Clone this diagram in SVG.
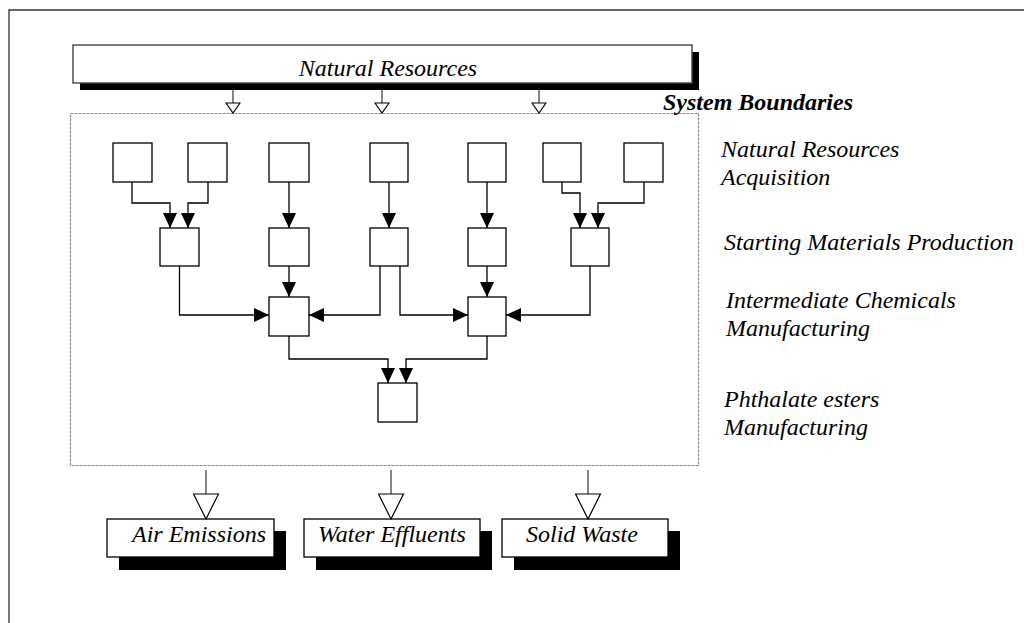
<svg xmlns="http://www.w3.org/2000/svg" width="1024" height="623" viewBox="0 0 1024 623">
<style>
  .bg{fill:#ffffff}
  .frame{fill:none;stroke:#333;stroke-width:1.3}
  .box{fill:#fff;stroke:#000;stroke-width:1.3}
  .tbox{fill:#fff;stroke:#444;stroke-width:1.4}
  .shadow{fill:#000}
  .boundary{fill:none;stroke:#8a8a8a;stroke-width:1.2;stroke-dasharray:3,1}
  .conn{fill:none;stroke:#000;stroke-width:1.3}
  .flow{fill:none;stroke:#444;stroke-width:1.3}
  .lbl{font-family:"Liberation Serif","Times New Roman",serif;font-style:italic;font-size:24px;fill:#000}
  .bold{font-weight:bold}
</style>
<defs>
  <marker id="arr" markerUnits="userSpaceOnUse" viewBox="0 0 15 14" markerWidth="15" markerHeight="14" refX="15" refY="7" orient="auto">
    <path d="M0,0 L15,7 L0,14 z" fill="#000"/>
  </marker>
  <marker id="hollowS" markerUnits="userSpaceOnUse" viewBox="-1 -1 12 16" markerWidth="12" markerHeight="16" refX="10" refY="7" orient="auto">
    <path d="M0,0 L10,7 L0,14 z" fill="#fff" stroke="#000" stroke-width="1.2"/>
  </marker>
  <marker id="hollowB" markerUnits="userSpaceOnUse" viewBox="-1 -1 27 27" markerWidth="27" markerHeight="27" refX="25" refY="12.5" orient="auto">
    <path d="M0,0 L25,12.5 L0,25 z" fill="#fff" stroke="#000" stroke-width="1.2"/>
  </marker>
</defs>
<rect class="bg" x="0" y="0" width="1024" height="623"/>
<path class="frame" d="M9,623 V10 H1024"/>

<g id="natural-resources">
  <rect class="shadow" x="80" y="52" width="619" height="38"/>
  <rect class="tbox" x="73" y="45" width="619" height="38"/>
  <text class="lbl" x="388" y="76" text-anchor="middle">Natural Resources</text>
</g>

<g id="system-boundary">
  <rect class="boundary" x="70.5" y="113.5" width="628" height="352"/>
  <text class="lbl bold" x="663" y="110">System Boundaries</text>
</g>

<g id="stage-labels">
  <text class="lbl" x="721" y="157">Natural Resources</text>
  <text class="lbl" x="721" y="185">Acquisition</text>
  <text class="lbl" x="724" y="250">Starting Materials Production</text>
  <text class="lbl" x="726" y="308">Intermediate Chemicals</text>
  <text class="lbl" x="726" y="336">Manufacturing</text>
  <text class="lbl" x="724" y="407">Phthalate esters</text>
  <text class="lbl" x="724" y="435">Manufacturing</text>
</g>

<g id="acq1"><rect class="box" x="113" y="143" width="39" height="39"/></g>
<g id="acq2"><rect class="box" x="188" y="143" width="39" height="39"/></g>
<g id="acq3"><rect class="box" x="269" y="143" width="40" height="39"/></g>
<g id="acq4"><rect class="box" x="370" y="143" width="38" height="39"/></g>
<g id="acq5"><rect class="box" x="468" y="143" width="38" height="39"/></g>
<g id="acq6"><rect class="box" x="543" y="143" width="38" height="39"/></g>
<g id="acq7"><rect class="box" x="624" y="143" width="39" height="39"/></g>

<g id="start1"><rect class="box" x="160" y="228" width="39" height="38"/></g>
<g id="start2"><rect class="box" x="269" y="228" width="40" height="38"/></g>
<g id="start3"><rect class="box" x="370" y="228" width="38" height="38"/></g>
<g id="start4"><rect class="box" x="468" y="228" width="38" height="38"/></g>
<g id="start5"><rect class="box" x="571" y="228" width="38" height="38"/></g>

<g id="inter1"><rect class="box" x="269" y="297" width="40" height="39"/></g>
<g id="inter2"><rect class="box" x="468" y="297" width="38" height="39"/></g>

<g id="phthalate"><rect class="box" x="378" y="383" width="39" height="39"/></g>

<g id="air-emissions">
  <rect class="shadow" x="119" y="531" width="167" height="39"/>
  <rect class="box" x="107" y="519" width="167" height="38"/>
  <text class="lbl" x="132" y="542">Air Emissions</text>
</g>
<g id="water-effluents">
  <rect class="shadow" x="316" y="531" width="176" height="39"/>
  <rect class="box" x="304" y="519" width="176" height="38"/>
  <text class="lbl" x="318" y="542">Water Effluents</text>
</g>
<g id="solid-waste">
  <rect class="shadow" x="514" y="531" width="166" height="39"/>
  <rect class="box" x="502" y="519" width="166" height="38"/>
  <text class="lbl" x="526" y="542">Solid Waste</text>
</g>

<g id="connectors">
  <path class="flow" d="M233,90 V113" marker-end="url(#hollowS)"/>
  <path class="flow" d="M382,90 V113" marker-end="url(#hollowS)"/>
  <path class="flow" d="M539,90 V113" marker-end="url(#hollowS)"/>

  <path class="conn" d="M132,182 V203 H170 V228" marker-end="url(#arr)"/>
  <path class="conn" d="M208,182 V203 H188 V228" marker-end="url(#arr)"/>
  <path class="conn" d="M289,182 V228" marker-end="url(#arr)"/>
  <path class="conn" d="M389,182 V228" marker-end="url(#arr)"/>
  <path class="conn" d="M487,182 V228" marker-end="url(#arr)"/>
  <path class="conn" d="M562,182 V193 H580 V228" marker-end="url(#arr)"/>
  <path class="conn" d="M644,182 V203 H598 V228" marker-end="url(#arr)"/>

  <path class="conn" d="M179.5,266 V315 H269" marker-end="url(#arr)"/>
  <path class="conn" d="M289,266 V297" marker-end="url(#arr)"/>
  <path class="conn" d="M380,266 V315 H309" marker-end="url(#arr)"/>
  <path class="conn" d="M400,266 V315 H468" marker-end="url(#arr)"/>
  <path class="conn" d="M487,266 V297" marker-end="url(#arr)"/>
  <path class="conn" d="M590,266 V315 H506" marker-end="url(#arr)"/>

  <path class="conn" d="M289,336 V359 H388 V383" marker-end="url(#arr)"/>
  <path class="conn" d="M487,336 V359 H406 V383" marker-end="url(#arr)"/>

  <path class="flow" d="M206,470 V519" marker-end="url(#hollowB)"/>
  <path class="flow" d="M391,470 V519" marker-end="url(#hollowB)"/>
  <path class="flow" d="M588,470 V519" marker-end="url(#hollowB)"/>
</g>
</svg>
